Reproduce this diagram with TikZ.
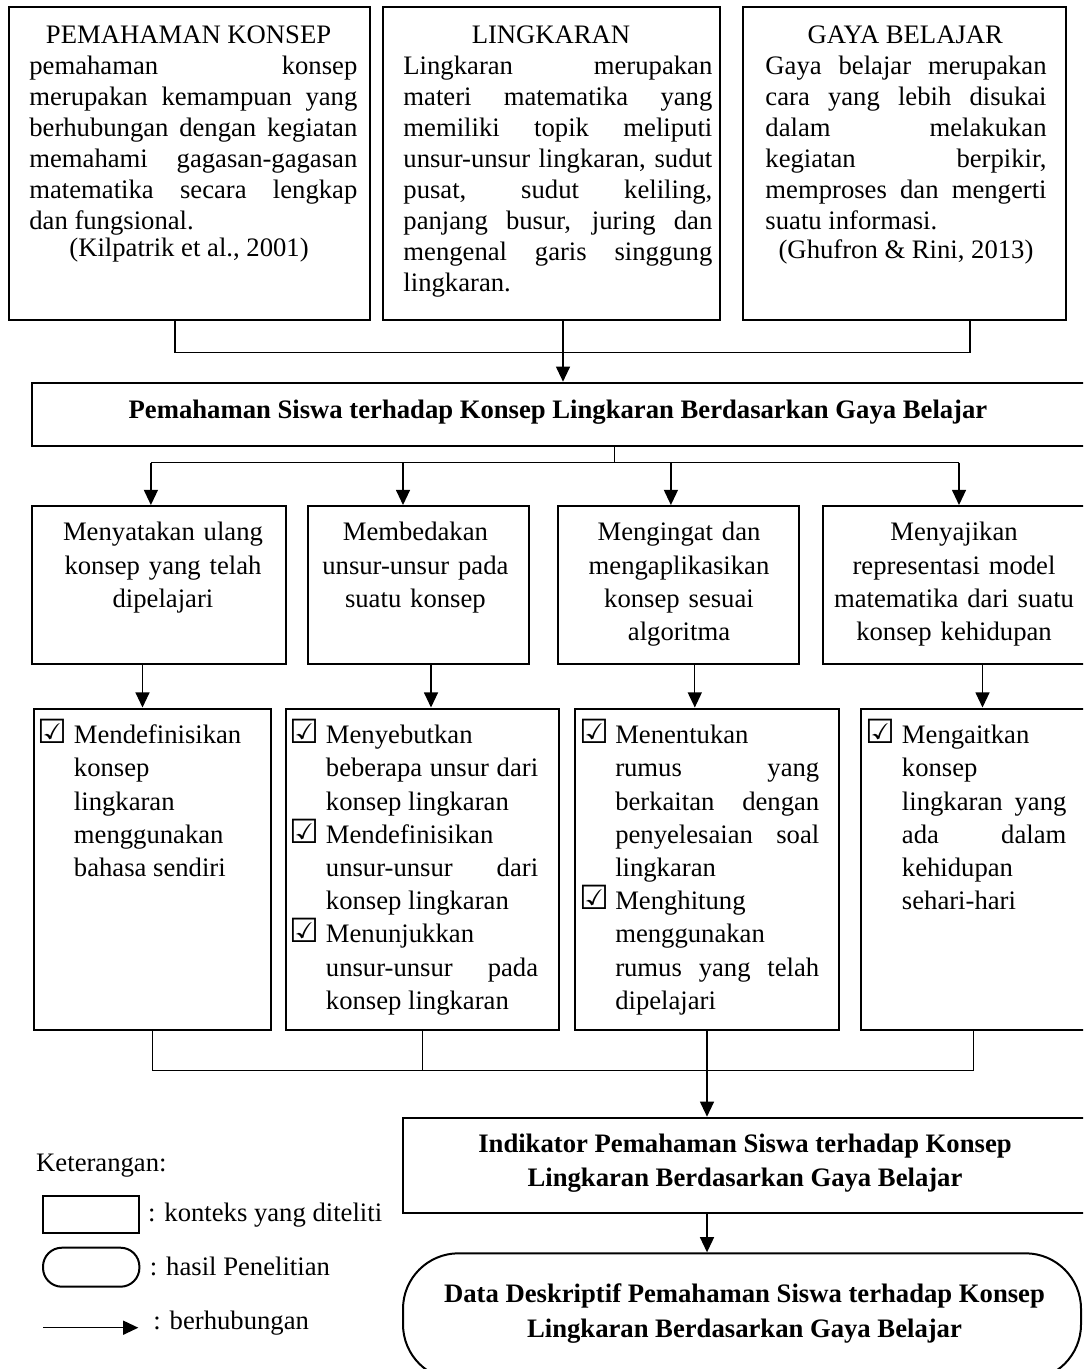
\documentclass[tikz,border=0pt]{standalone}
\usepackage{fontspec}
\setmainfont{Liberation Serif}
\newfontfamily\dejavu{DejaVu Sans}
\usetikzlibrary{arrows.meta,fit}
\newcommand{\prepbox}{\tolerance=10000 \hbadness=10000 \hyphenpenalty=10000 \exhyphenpenalty=10000 \parindent=0pt}
\newcommand{\chk}{\noindent\strut\llap{\makebox[16.2pt][l]{\dejavu\fontsize{15}{15}\selectfont ☑}}}
\tikzset{
  bx/.style={draw, line width=0.9pt, inner sep=0pt, rectangle},
  ln/.style={line width=0.6pt},
  arr/.style={ln, -{Triangle[width=6.3pt,length=6.8pt]}},
  tf/.style={font=\fontsize{12}{13.95}\selectfont, inner sep=0pt},
  topbody/.style={tf, anchor=north west, align=justify, execute at begin node=\prepbox},
  rowtwo/.style={tf, font=\fontsize{12}{15}\selectfont, align=center, anchor=north, text width=120pt},
  rowthree/.style={tf, font=\fontsize{12}{14.94}\selectfont, anchor=north west, align=justify, execute at begin node={\prepbox\leftskip=16.2pt}},
}
\begin{document}
\begin{tikzpicture}[x=0.45pt, y=-0.45pt]
\useasboundingbox (0,0) rectangle (1083,1369);
\clip (0,0) rectangle (1083,1369);

% ---------- top boxes ----------
\node[bx, fit={(8.7,7) (369.5,320)}] (t1) {};
\node[bx, fit={(383,7) (720.4,320)}] (t2) {};
\node[bx, fit={(743.3,7) (1065.6,320)}] (t3) {};

\node[tf] (t1h) at (188.6,35) {PEMAHAMAN KONSEP};
\node[topbody, text width=147.6pt] (t1b) at (28.9,52.3) {\strut pemahaman konsep\linebreak merupakan kemampuan yang\linebreak berhubungan dengan kegiatan\linebreak memahami gagasan-gagasan\linebreak matematika secara lengkap\linebreak dan fungsional.};
\node[tf] (t1c) at (189,250) {(Kilpatrik et al., 2001)};

\node[tf] (t2h) at (551,35) {LINGKARAN};
\node[topbody, text width=139pt] (t2b) at (403,52.3) {\strut Lingkaran merupakan\linebreak materi matematika yang\linebreak memiliki topik meliputi\linebreak unsur-unsur lingkaran, sudut\linebreak pusat, sudut keliling,\linebreak panjang busur, juring dan\linebreak mengenal garis singgung\linebreak lingkaran.};

\node[tf] (t3h) at (905.3,35) {GAYA BELAJAR};
\node[topbody, text width=126.5pt] (t3b) at (765,52.3) {\strut Gaya belajar merupakan\linebreak cara yang lebih disukai\linebreak dalam melakukan\linebreak kegiatan berpikir,\linebreak memproses dan mengerti\linebreak suatu informasi.};
\node[tf] (t3c) at (906,252) {(Ghufron \& Rini, 2013)};

% ---------- main box ----------
\node[bx, fit={(32,382.7) (1090,445.7)}] (main) {};
\node[tf, font=\fontsize{12}{13.95}\selectfont\bfseries] (maint) at (558,412) {Pemahaman Siswa terhadap Konsep Lingkaran Berdasarkan Gaya Belajar};

% ---------- row 2 ----------
\node[bx, fit={(32,506) (286,664)}] (r1) {};
\node[bx, fit={(308,506) (529.4,664)}] (r2) {};
\node[bx, fit={(558.4,506) (799,664)}] (r3) {};
\node[bx, fit={(822.5,506) (1090,664)}] (r4) {};
\node[rowtwo] (r1t) at (163,517) {\strut Menyatakan ulang\\konsep yang telah\\dipelajari};
\node[rowtwo] (r2t) at (415.4,517) {\strut Membedakan\\unsur-unsur pada\\suatu konsep};
\node[rowtwo] (r3t) at (679,517) {\strut Mengingat dan\\mengaplikasikan\\konsep sesuai\\algoritma};
\node[rowtwo] (r4t) at (954,517) {\strut Menyajikan\\representasi model\\matematika dari suatu\\konsep kehidupan};

% ---------- row 3 ----------
\node[bx, fit={(34,708.5) (271,1030)}] (q1) {};
\node[bx, fit={(285.7,708.5) (559,1030)}] (q2) {};
\node[bx, fit={(574.6,708.5) (838.8,1030)}] (q3) {};
\node[bx, fit={(861.3,708.5) (1090,1030)}] (q4) {};

\node[rowthree, text width=95.6pt] (q1t) at (37.5,719) {\chk Mendefinisikan\linebreak konsep\linebreak lingkaran\linebreak menggunakan\linebreak bahasa sendiri};
\node[rowthree, text width=111.7pt] (q2t) at (289.5,719) {\chk Menyebutkan\linebreak beberapa unsur dari\linebreak konsep lingkaran\par
\chk Mendefinisikan\linebreak unsur-unsur dari\linebreak konsep lingkaran\par
\chk Menunjukkan\linebreak unsur-unsur pada\linebreak konsep lingkaran};
\node[rowthree, text width=108pt] (q3t) at (578.8,719) {\chk Menentukan\linebreak rumus yang\linebreak berkaitan dengan\linebreak penyelesaian soal\linebreak lingkaran\par
\chk Menghitung\linebreak menggunakan\linebreak rumus yang telah\linebreak dipelajari};
\node[rowthree, text width=90.2pt] (q4t) at (865.5,719) {\chk Mengaitkan\linebreak konsep\linebreak lingkaran yang\linebreak ada dalam\linebreak kehidupan\linebreak sehari-hari};

% ---------- bottom boxes ----------
\node[bx, fit={(403,1117.7) (1090,1213.3)}] (ind) {};
\node[tf, font=\fontsize{12}{15}\selectfont\bfseries, align=center] (indt) at (745,1163.3) {Indikator Pemahaman Siswa terhadap Konsep\\Lingkaran Berdasarkan Gaya Belajar};
\node[bx, rounded corners=25pt, fit={(403,1253.3) (1081,1380)}] (res) {};
\node[tf, font=\fontsize{12}{15.75}\selectfont\bfseries, align=center] (rest) at (744.5,1314) {Data Deskriptif Pemahaman Siswa terhadap Konsep\\Lingkaran Berdasarkan Gaya Belajar};

% ---------- legend ----------
\node[tf, anchor=west] (kt) at (35.8,1166) {Keterangan:};
\node[bx, fit={(43,1195.7) (139.4,1233.3)}] (lg1) {};
\node[tf, anchor=west] (lg1t) at (147.7,1215) {: konteks yang diteliti};
\node[bx, rounded corners=8.5pt, fit={(43,1247.7) (139.4,1286.7)}] (lg2) {};
\node[tf, anchor=west] (lg2t) at (149.5,1266.7) {: hasil Penelitian};
\coordinate (la1) at (43,1327.7);
\coordinate (la2) at (138.3,1327.7);
\draw[arr] (la1) -- (la2);
\node[tf, anchor=west] (lg3t) at (153,1323) {: berhubungan};

% ---------- connectors ----------
\coordinate (j1) at (175,352.7);
\coordinate (j2) at (563,352.7);
\coordinate (j3) at (970,352.7);
\draw[ln] (t1.south -| j1) -- (j1) -- (j3) -- (t3.south -| j3);
\draw[arr] (t2.south -| j2) -- (main.north -| j2);

\coordinate (s0) at (614.4,462.7);
\coordinate (b1) at (150.9,462.7);
\coordinate (b2) at (403,462.7);
\coordinate (b3) at (670.9,462.7);
\coordinate (b4) at (959,462.7);
\draw[ln] (main.south -| s0) -- (s0);
\draw[ln] (b1) -- (b4);
\draw[arr] (b1) -- (r1.north -| b1);
\draw[arr] (b2) -- (r2.north -| b2);
\draw[arr] (b3) -- (r3.north -| b3);
\draw[arr] (b4) -- (r4.north -| b4);

\coordinate (d1) at (142.5,664);
\coordinate (d2) at (431,664);
\coordinate (d3) at (694.8,664);
\coordinate (d4) at (982.5,664);
\draw[arr] (r1.south -| d1) -- (q1.north -| d1);
\draw[arr] (r2.south -| d2) -- (q2.north -| d2);
\draw[arr] (r3.south -| d3) -- (q3.north -| d3);
\draw[arr] (r4.south -| d4) -- (q4.north -| d4);

\coordinate (e1) at (152.2,1070.7);
\coordinate (e2) at (422.3,1070.7);
\coordinate (e3) at (707,1070.7);
\coordinate (e4) at (973.5,1070.7);
\draw[ln] (q1.south -| e1) -- (e1) -- (e4) -- (q4.south -| e4);
\draw[ln] (q2.south -| e2) -- (e2);
\draw[arr] (q3.south -| e3) -- (ind.north -| e3);
\draw[arr] (ind.south -| e3) -- (res.north -| e3);
\end{tikzpicture}
\end{document}
